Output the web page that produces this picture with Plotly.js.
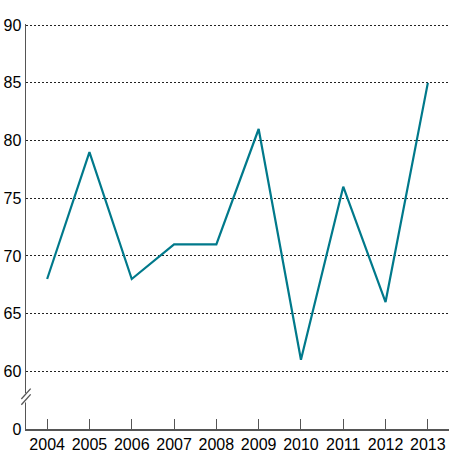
<!DOCTYPE html>
<html>
<head>
<meta charset="utf-8">
<script src="https://cdn.plot.ly/plotly-3.0.1.min.js"></script>
<style>html,body{margin:0;padding:0;background:#fff;}</style>
</head>
<body>
<div id="chart" style="width:450px;height:472px;"></div>
<script>
const years = ['2004','2005','2006','2007','2008','2009','2010','2011','2012','2013'];
const values = [68, 79, 68, 71, 71, 81, 61, 76, 66, 85];
const yTickVals = [55, 60, 65, 70, 75, 80, 85, 90];
const yTickText = ['0', '60', '65', '70', '75', '80', '85', '90'];

const trace = {
  x: years,
  y: values,
  type: 'scatter',
  mode: 'lines',
  line: {color: '#00798b', width: 2.2},
  hoverinfo: 'skip'
};

const layout = {
  width: 450,
  height: 472,
  margin: {l: 26, r: 1, t: 24, b: 42.5},
  paper_bgcolor: '#fff',
  plot_bgcolor: '#fff',
  showlegend: false,
  font: {family: 'Liberation Sans, Arial, sans-serif', size: 16, color: '#000'},
  xaxis: {
    type: 'category',
    range: [-0.5, 9.5],
    showgrid: false,
    showline: true,
    linecolor: '#555',
    linewidth: 1.5,
    ticks: 'inside',
    ticklen: 10,
    tickwidth: 1,
    tickcolor: '#555',
    tickfont: {size: 16, color: '#000'},
    zeroline: false,
    fixedrange: true
  },
  yaxis: {
    range: [55, 90.1],
    tickvals: yTickVals,
    ticktext: yTickText,
    showgrid: true,
    gridcolor: '#222',
    griddash: '2px,2px',
    gridwidth: 1,
    showline: true,
    linecolor: '#555',
    linewidth: 1.5,
    ticks: '',
    ticklabelstandoff: 0,
    tickfont: {size: 16, color: '#000'},
    zeroline: false,
    fixedrange: true
  },
  shapes: [
    {type: 'rect', xref: 'paper', yref: 'y', x0: -0.012, x1: 0.012, y0: 57.3, y1: 58.1,
     fillcolor: '#fff', line: {width: 0}, layer: 'above'},
    {type: 'line', xref: 'paper', yref: 'y', x0: -0.011, x1: 0.011, y0: 57.1, y1: 58.0,
     line: {color: '#555', width: 1.3}, layer: 'above'},
    {type: 'line', xref: 'paper', yref: 'y', x0: -0.011, x1: 0.011, y0: 57.6, y1: 58.5,
     line: {color: '#555', width: 1.3}, layer: 'above'}
  ]
};

Plotly.newPlot('chart', [trace], layout, {displayModeBar: false, staticPlot: true});
</script>
</body>
</html>
